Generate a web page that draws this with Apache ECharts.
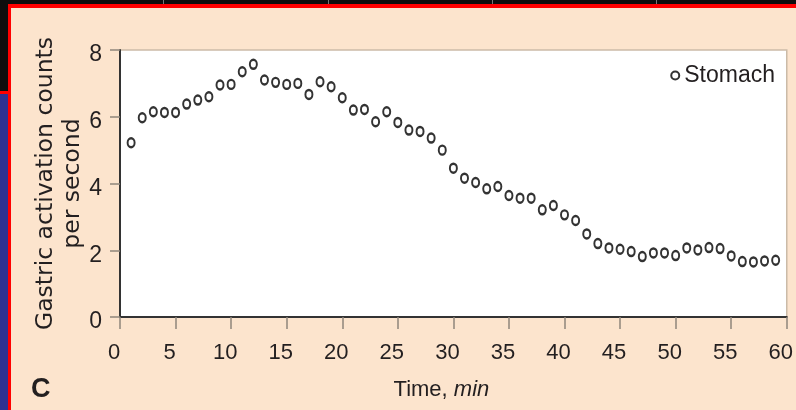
<!DOCTYPE html>
<html>
<head>
<meta charset="utf-8">
<style>
  html, body { margin: 0; padding: 0; background: #fce4cd; }
  #chart { width: 796px; height: 410px; }
</style>
<script src="https://cdn.jsdelivr.net/npm/echarts@6/dist/echarts.min.js"></script>
</head>
<body>
<div id="chart"></div>
<script>
// ---- data ----
var timeMin = [1,2,3,4,5,6,7,8,9,10,11,12,13,14,15,16,17,18,19,20,
               21,22,23,24,25,26,27,28,29,30,31,32,33,34,35,36,37,38,39,40,
               41,42,43,44,45,46,47,48,49,50,51,52,53,54,55,56,57,58,59];
var stomachCounts = [5.22,5.97,6.15,6.13,6.13,6.38,6.50,6.60,6.95,6.97,
                     7.35,7.57,7.10,7.03,6.97,7.00,6.67,7.05,6.90,6.57,
                     6.20,6.22,5.85,6.15,5.83,5.60,5.56,5.36,5.00,4.46,
                     4.16,4.03,3.84,3.91,3.64,3.56,3.56,3.21,3.34,3.06,
                     2.89,2.49,2.20,2.07,2.03,1.96,1.81,1.92,1.92,1.84,
                     2.07,2.01,2.08,2.05,1.83,1.66,1.65,1.68,1.70];
var seriesName = 'Stomach';
var xTickMin = 0, xTickMax = 60, xTickStep = 5;
var yTickMin = 0, yTickMax = 8, yTickStep = 2;
var yTitle = 'Gastric activation counts\nper second';
var panelLabel = 'C';

var points = timeMin.map(function (t, i) { return [t, stomachCounts[i]]; });

var sans = "'Liberation Sans', Arial, sans-serif";
var textColor = '#231f20';
var tickGray = '#8f857b';

var chart = echarts.init(document.getElementById('chart'), null, { renderer: 'canvas' });
chart.setOption({
  backgroundColor: '#fce4cd',
  animation: false,
  title: {
    text: panelLabel,
    left: 31, top: 376, padding: 0,
    textStyle: { fontFamily: sans, fontSize: 27, fontWeight: 'bold', color: textColor }
  },
  legend: {
    data: [seriesName],
    right: 16, top: 59,
    itemWidth: 8, itemHeight: 8,
    textStyle: { fontFamily: sans, fontSize: 23, color: textColor }
  },
  grid: {
    left: 120, right: 8, top: 50, bottom: 93,
    show: true, backgroundColor: '#ffffff', borderColor: '#cbbba8', borderWidth: 1.5
  },
  xAxis: {
    type: 'value', min: xTickMin, max: xTickMax, interval: xTickStep,
    name: '{a|Time, }{b|min}',
    nameLocation: 'middle', nameGap: 62, nameMoveOverlap: false,
    nameTextStyle: {
      padding: [0, 24, 0, 0],
      rich: {
        a: { fontFamily: sans, fontSize: 22, color: textColor },
        b: { fontFamily: sans, fontSize: 22, fontStyle: 'italic', color: textColor }
      }
    },
    axisLine: { show: true, onZero: false, lineStyle: { color: '#333', width: 2 } },
    axisTick: { show: true, length: 12, lineStyle: { color: tickGray, width: 1.5 } },
    axisLabel: { fontFamily: sans, fontSize: 22, color: textColor, margin: 25, padding: [0, 12, 0, 0] },
    splitLine: { show: false }
  },
  yAxis: {
    type: 'value', min: yTickMin, max: yTickMax, interval: yTickStep,
    name: yTitle,
    nameLocation: 'middle', nameRotate: 90, nameGap: 34, nameMoveOverlap: false,
    nameTextStyle: { fontFamily: 'DejaVu Sans', fontSize: 23.5, lineHeight: 27, color: textColor, align: 'center' },
    axisLine: { show: true, onZero: false, lineStyle: { color: '#333', width: 2 } },
    axisTick: { show: true, length: 10, lineStyle: { color: tickGray, width: 1.5 } },
    axisLabel: { fontFamily: sans, fontSize: 23, color: textColor, margin: 18, verticalAlign: 'top', lineHeight: 10 },
    splitLine: { show: false }
  },
  series: [{
    name: seriesName,
    type: 'scatter',
    data: points,
    symbol: 'circle',
    symbolSize: [7, 9],
    itemStyle: { color: '#ffffff', borderColor: '#333333', borderWidth: 2.2, opacity: 1 }
  }],
  graphic: [
    { type: 'rect', shape: { x: 0, y: 0, width: 796, height: 5 }, style: { fill: '#0d0d0d' }, silent: true, z: 100 },
    { type: 'rect', shape: { x: 0, y: 0, width: 8, height: 93 }, style: { fill: '#0d0d0d' }, silent: true, z: 100 },
    { type: 'rect', shape: { x: 0, y: 91, width: 8, height: 3 }, style: { fill: '#ff0000' }, silent: true, z: 101 },
    { type: 'rect', shape: { x: 0, y: 94, width: 8, height: 316 }, style: { fill: '#2e3192' }, silent: true, z: 100 },
    { type: 'rect', shape: { x: 8, y: 4, width: 788, height: 4 }, style: { fill: '#ff0000' }, silent: true, z: 101 },
    { type: 'rect', shape: { x: 8, y: 4, width: 3, height: 406 }, style: { fill: '#ff0000' }, silent: true, z: 101 },
    { type: 'line', shape: { x1: 163.5, y1: 0, x2: 163.5, y2: 4 }, style: { stroke: '#777', lineWidth: 1 }, silent: true, z: 101 },
    { type: 'line', shape: { x1: 328.5, y1: 0, x2: 328.5, y2: 4 }, style: { stroke: '#777', lineWidth: 1 }, silent: true, z: 101 },
    { type: 'line', shape: { x1: 492.5, y1: 0, x2: 492.5, y2: 4 }, style: { stroke: '#777', lineWidth: 1 }, silent: true, z: 101 },
    { type: 'line', shape: { x1: 656.5, y1: 0, x2: 656.5, y2: 4 }, style: { stroke: '#777', lineWidth: 1 }, silent: true, z: 101 }
  ]
});
</script>
</body>
</html>
